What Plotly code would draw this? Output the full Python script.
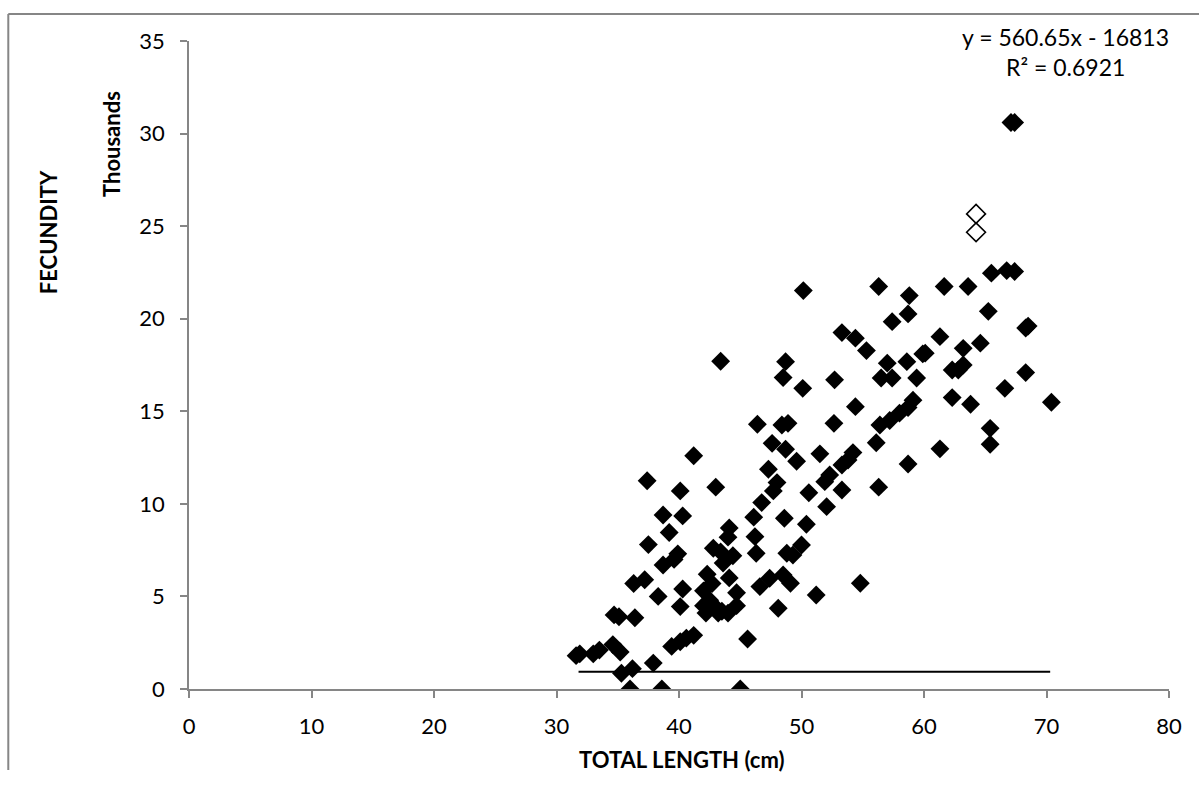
import plotly.graph_objects as go

# Filled (black) points: total length (cm), fecundity (thousands)
len_cm = [31.6, 31.9, 33.0, 33.5, 34.6, 35.2, 35.3, 36.2, 36.0, 37.9, 38.6, 45.0,
          34.7, 35.1, 36.4, 36.3, 37.2, 38.3, 37.5, 37.4, 38.7, 40.3, 39.2, 39.9, 39.6, 38.7,
          40.3, 40.1, 39.4, 40.1, 40.6, 41.2, 45.6, 40.1, 41.2, 43.4, 43.0,
          42.3, 42.7, 42.8, 43.4, 43.6, 44.1, 44.0, 44.4, 44.1, 42.0, 42.5, 43.0, 43.5, 42.2,
          44.0, 44.7, 44.7, 42.0, 43.2,
          47.7, 50.6, 53.3, 56.3, 48.0, 46.75, 52.05, 46.1, 48.6, 50.4, 46.2, 46.3, 48.8, 49.3,
          50.0, 47.4, 46.6, 48.5, 49.1, 51.2, 54.8, 48.1,
          57.4, 58.7, 53.3, 54.4, 55.3, 48.7, 48.5, 50.1, 52.7, 57.0, 58.6, 56.5, 57.4, 59.4,
          59.9, 54.4, 46.4, 48.4, 48.9, 52.65, 56.4, 57.2, 58.0, 58.7, 59.1, 56.1, 47.6, 48.7,
          49.6, 51.5, 54.2, 53.8, 53.3, 47.3, 52.3, 51.9, 58.7,
          50.15, 56.3, 58.8, 65.5, 66.75, 67.4, 61.65, 63.6, 65.25, 67.1, 67.4,
          68.3, 68.5, 61.3, 60.1, 64.6, 63.2, 62.3, 63.2, 62.8, 68.3, 66.6, 62.3, 63.8, 70.4,
          65.4, 65.4, 61.3]
fec_k = [1.8, 1.9, 1.9, 2.1, 2.4, 2.0, 0.85, 1.1, 0.0, 1.4, 0.0, 0.0,
         4.0, 3.9, 3.85, 5.7, 5.9, 5.0, 7.8, 11.25, 9.4, 9.35, 8.45, 7.3, 7.0, 6.7,
         5.4, 4.45, 2.3, 2.55, 2.75, 2.9, 2.7, 10.7, 12.6, 17.7, 10.9,
         6.2, 5.7, 7.6, 7.4, 6.8, 8.7, 8.2, 7.2, 6.0, 5.3, 4.8, 4.4, 4.2, 4.1,
         4.1, 5.2, 4.5, 4.5, 4.1,
         10.7, 10.6, 10.75, 10.9, 11.15, 10.07, 9.85, 9.28, 9.22, 8.9, 8.23, 7.33, 7.33, 7.24,
         7.78, 5.98, 5.53, 6.16, 5.71, 5.08, 5.71, 4.36,
         19.84, 20.26, 19.25, 18.95, 18.28, 17.68, 16.82, 16.24, 16.7, 17.6, 17.68, 16.8, 16.8, 16.8,
         18.1, 15.25, 14.3, 14.26, 14.35, 14.35, 14.26, 14.5, 14.9, 15.2, 15.6, 13.3, 13.27, 12.95,
         12.3, 12.7, 12.77, 12.37, 12.1, 11.87, 11.56, 11.2, 12.15,
         21.52, 21.74, 21.25, 22.46, 22.6, 22.55, 21.74, 21.74, 20.4, 30.6, 30.6,
         19.5, 19.6, 19.03, 18.14, 18.68, 18.4, 17.23, 17.5, 17.23, 17.09, 16.24, 15.74, 15.38, 15.49,
         14.08, 13.22, 12.97]

# Hollow points
open_len = [64.25, 64.25]
open_fec = [25.66, 24.67]

# Line drawn in the chart
line_x = [31.8, 70.3]
line_y = [0.93, 0.93]

x_ticks = [0, 10, 20, 30, 40, 50, 60, 70, 80]
y_ticks = [0, 5, 10, 15, 20, 25, 30, 35]

FONT = "Lato"
GREY = "#868686"

fig = go.Figure()
fig.add_trace(go.Scatter(x=line_x, y=line_y, mode="lines",
                         line=dict(color="black", width=2), showlegend=False))
fig.add_trace(go.Scatter(x=len_cm, y=fec_k, mode="markers",
                         marker=dict(symbol="diamond", size=14.5, color="black",
                                     line=dict(width=0)), showlegend=False))
fig.add_trace(go.Scatter(x=open_len, y=open_fec, mode="markers",
                         marker=dict(symbol="diamond-open", size=14.5, color="black",
                                     line=dict(width=1.6, color="black")), showlegend=False))

fig.update_layout(
    width=1199, height=794,
    margin=dict(l=189, r=30, t=41, b=105),
    paper_bgcolor="white", plot_bgcolor="white",
    font=dict(family=FONT, size=22, color="black"),
    xaxis=dict(range=[0, 80], tickvals=x_ticks, showgrid=False, zeroline=False,
               showline=True, linecolor=GREY, linewidth=1.5,
               ticks="outside", ticklen=7, tickcolor=GREY, tickwidth=1.5,
               ticklabelstandoff=10, tickfont=dict(family=FONT, size=22)),
    yaxis=dict(range=[0, 35], tickvals=y_ticks, showgrid=False, zeroline=False,
               showline=True, linecolor=GREY, linewidth=1.5,
               ticks="outside", ticklen=7, tickcolor=GREY, tickwidth=1.5,
               ticklabelstandoff=11, tickfont=dict(family=FONT, size=22)),
    shapes=[
        dict(type="line", xref="paper", yref="paper", x0=-0.1844, x1=1.05,
             y0=1.0417, y1=1.0417, line=dict(color=GREY, width=2)),
        dict(type="line", xref="paper", yref="paper", x0=-0.1844, x1=-0.1844,
             y0=1.0417, y1=-0.125, line=dict(color=GREY, width=2)),
    ],
    annotations=[
        dict(text="y = 560.65x - 16813", xref="paper", yref="paper", x=0.894, y=1.0066,
             xanchor="center", yanchor="middle", showarrow=False, font=dict(size=23)),
        dict(text="R² = 0.6921", xref="paper", yref="paper", x=0.894, y=0.9603,
             xanchor="center", yanchor="middle", showarrow=False, font=dict(size=23)),
        dict(text="<b>Thousands</b>", xref="paper", yref="paper", x=-0.0796, y=0.841,
             xanchor="center", yanchor="middle", textangle=-90, showarrow=False,
             font=dict(size=22)),
        dict(text="<b>FECUNDITY</b>", xref="paper", yref="paper", x=-0.1439, y=0.705,
             xanchor="center", yanchor="middle", textangle=-90, showarrow=False,
             font=dict(size=22)),
        dict(text="<b>TOTAL LENGTH (cm)</b>", xref="paper", yref="paper", x=0.503, y=-0.109,
             xanchor="center", yanchor="middle", showarrow=False, font=dict(size=22)),
    ],
)

fig.write_html("out.html")
